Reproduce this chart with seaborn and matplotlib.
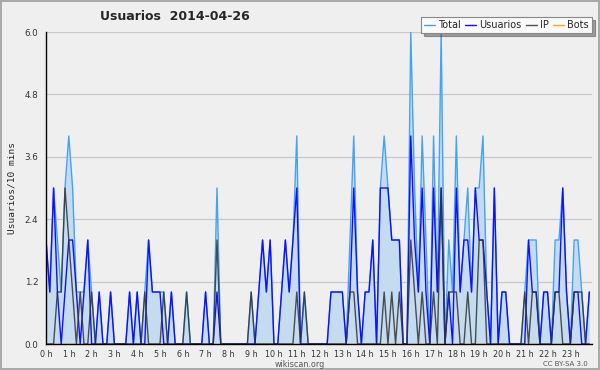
import pandas as pd
import matplotlib
matplotlib.use('Agg')
import matplotlib.pyplot as plt
from matplotlib.ticker import MultipleLocator, FixedLocator
import seaborn as sns

# edits per 10 minute slot, 2014-04-26 (6 slots per row = 1 hour)
total = [2, 1, 3, 2, 1, 3,  4, 3, 1, 1, 1, 2,  1, 0, 1, 0, 0, 1,  0, 0, 0, 0, 1, 0,
         1, 0, 1, 2, 1, 1,  1, 1, 0, 1, 0, 0,  0, 1, 0, 0, 0, 0,  1, 0, 0, 3, 0, 0,
         0, 0, 0, 0, 0, 0,  1, 0, 1, 2, 1, 2,  0, 0, 1, 2, 1, 2,  4, 0, 1, 0, 0, 0,
         0, 0, 0, 1, 1, 1,  1, 0, 2, 4, 1, 0,  1, 1, 2, 0, 3, 4,  3, 2, 2, 2, 0, 0,
         6, 3, 1, 4, 2, 0,  4, 1, 6, 0, 2, 1,  4, 1, 2, 3, 1, 3,  3, 4, 1, 0, 3, 0,
         1, 1, 0, 0, 0, 0,  1, 2, 2, 2, 0, 1,  1, 0, 2, 2, 3, 1,  0, 2, 2, 1, 0, 1]
usuarios = [2, 1, 3, 1, 0, 1,  2, 2, 1, 0, 1, 2,  0, 0, 1, 0, 0, 1,  0, 0, 0, 0, 1, 0,
            1, 0, 0, 2, 1, 1,  1, 0, 0, 1, 0, 0,  0, 0, 0, 0, 0, 0,  1, 0, 0, 1, 0, 0,
            0, 0, 0, 0, 0, 0,  0, 0, 1, 2, 1, 2,  0, 0, 1, 2, 1, 2,  3, 0, 0, 0, 0, 0,
            0, 0, 0, 1, 1, 1,  1, 0, 1, 3, 1, 0,  1, 1, 2, 0, 3, 3,  3, 2, 2, 2, 0, 0,
            4, 2, 1, 3, 1, 0,  3, 1, 3, 0, 1, 0,  3, 1, 2, 2, 1, 3,  2, 2, 1, 0, 3, 0,
            1, 1, 0, 0, 0, 0,  0, 2, 1, 1, 0, 1,  1, 0, 1, 1, 3, 1,  0, 1, 1, 0, 0, 1]
ip = [0, 0, 0, 1, 1, 3,  2, 1, 0, 1, 0, 0,  1, 0, 0, 0, 0, 0,  0, 0, 0, 0, 0, 0,
      0, 0, 1, 0, 0, 0,  0, 1, 0, 0, 0, 0,  0, 1, 0, 0, 0, 0,  0, 0, 0, 2, 0, 0,
      0, 0, 0, 0, 0, 0,  1, 0, 0, 0, 0, 0,  0, 0, 0, 0, 0, 0,  1, 0, 1, 0, 0, 0,
      0, 0, 0, 0, 0, 0,  0, 0, 1, 1, 0, 0,  0, 0, 0, 0, 0, 1,  0, 1, 0, 1, 0, 0,
      2, 1, 0, 1, 0, 0,  1, 0, 3, 0, 1, 1,  1, 0, 0, 1, 0, 0,  2, 2, 0, 0, 0, 0,
      0, 0, 0, 0, 0, 0,  1, 0, 1, 1, 0, 0,  0, 0, 1, 1, 0, 0,  0, 1, 1, 1, 0, 0]
bots = [0, 0, 0, 0, 0, 0,  0, 0, 0, 0, 0, 0,  0, 0, 0, 0, 0, 0,  0, 0, 0, 0, 0, 0,
        0, 0, 0, 0, 0, 0,  0, 0, 0, 0, 0, 0,  0, 0, 0, 0, 0, 0,  0, 0, 0, 0, 0, 0,
        0, 0, 0, 0, 0, 0,  0, 0, 0, 0, 0, 0,  0, 0, 0, 0, 0, 0,  0, 0, 0, 0, 0, 0,
        0, 0, 0, 0, 0, 0,  0, 0, 0, 0, 0, 0,  0, 0, 0, 0, 0, 0,  0, 0, 0, 0, 0, 0,
        0, 0, 0, 0, 0, 0,  0, 0, 0, 0, 0, 0,  0, 0, 0, 0, 0, 0,  0, 0, 0, 0, 0, 0,
        0, 0, 0, 0, 0, 0,  0, 0, 0, 0, 0, 0,  0, 0, 0, 0, 0, 0,  0, 0, 0, 0, 0, 0]
hour_labels = ['0 h', '1 h', '2 h', '3 h', '4 h', '5 h', '6 h', '7 h', '8 h', '9 h', '10 h', '11 h',
               '12 h', '13 h', '14 h', '15 h', '16 h', '17 h', '18 h', '19 h', '20 h', '21 h', '22 h', '23 h']
y_ticks = [0.0, 1.2, 2.4, 3.6, 4.8, 6.0]

df = pd.DataFrame({'slot': range(len(total)), 'Total': total, 'Usuarios': usuarios,
                   'IP': ip, 'Bots': bots})

bg = '#efefef'
sns.set_style('white', rc={'axes.facecolor': bg, 'figure.facecolor': bg})
plt.rcParams['font.family'] = ['DejaVu Sans']

fig = plt.figure(figsize=(6, 3.7), dpi=100)
ax = fig.add_axes([46 / 600, 26 / 370, 546 / 600, 312 / 370])

ax.fill_between(df['slot'], df['Total'], 0, color='#c5dcf0', lw=0, zorder=1)
sns.lineplot(data=df, x='slot', y='Total', color='#45a2f5', lw=1, ax=ax, label='Total', zorder=3)
sns.lineplot(data=df, x='slot', y='Usuarios', color='#1010ff', lw=1, ax=ax, label='Usuarios', zorder=4)
sns.lineplot(data=df, x='slot', y='IP', color='#333333', lw=1, alpha=0.85, ax=ax, label='IP', zorder=5)
sns.lineplot(data=df, x='slot', y='Bots', color='#ffa31a', lw=1, ax=ax, label='Bots', zorder=2)

ax.set_xlim(0, 143.7)
ax.set_ylim(0, 6.0)
ax.set_xticks([6 * h for h in range(len(hour_labels))])
ax.set_xticklabels(hour_labels)
ax.xaxis.set_minor_locator(MultipleLocator(1))
ax.yaxis.set_major_locator(FixedLocator(y_ticks))
ax.set_yticklabels(['%.1f' % v for v in y_ticks])
ax.yaxis.set_minor_locator(MultipleLocator(0.3))
ax.tick_params(axis='both', which='major', direction='out', length=4, width=1,
               colors='black', labelcolor='#333333')
ax.tick_params(axis='y', which='major', labelsize=6.3, pad=1.5)
ax.tick_params(axis='x', which='major', labelsize=5.8, pad=0.3)
ax.tick_params(axis='both', which='minor', direction='out', length=2.5, width=0.8, colors='black')
ax.grid(axis='y', color='#c8c8c8', lw=0.9)
ax.set_axisbelow(True)
for s in ['top', 'right']:
    ax.spines[s].set_visible(False)
for s in ['left', 'bottom']:
    ax.spines[s].set_color('black')
    ax.spines[s].set_linewidth(1)
    ax.spines[s].set_zorder(6)
ax.set_xlabel('')
ax.set_ylabel('Usuarios/10 mins', family='DejaVu Sans Mono', fontsize=6.8, labelpad=6)

handles, labels = ax.get_legend_handles_labels()
ax.get_legend().remove()
leg = fig.legend(handles, labels, loc='upper right', bbox_to_anchor=(592 / 600, 1 - 17 / 370),
                 ncol=4, fontsize=7, frameon=True, fancybox=False, shadow=True,
                 handlelength=1.1, handletextpad=0.35, columnspacing=0.45, borderpad=0.3,
                 borderaxespad=0)
leg.get_frame().set_edgecolor('#888888')
leg.get_frame().set_facecolor('#fafafa')
leg.get_frame().set_linewidth(0.8)

fig.text(100 / 600, 1 - 16 / 370, 'Usuarios  2014-04-26', fontsize=9, fontweight='bold',
         ha='left', va='center')
fig.text(300 / 600, 1 - 364.5 / 370, 'wikiscan.org', fontsize=5.8, color='#555555',
         ha='center', va='center')
fig.text(588 / 600, 1 - 364 / 370, 'CC BY-SA 3.0', fontsize=5, color='#555555',
         ha='right', va='center')

fig.patch.set_edgecolor('#aaaaaa')
fig.patch.set_linewidth(1.5)
fig.savefig('out.png', dpi=100, facecolor=fig.get_facecolor(), edgecolor=fig.get_edgecolor())
